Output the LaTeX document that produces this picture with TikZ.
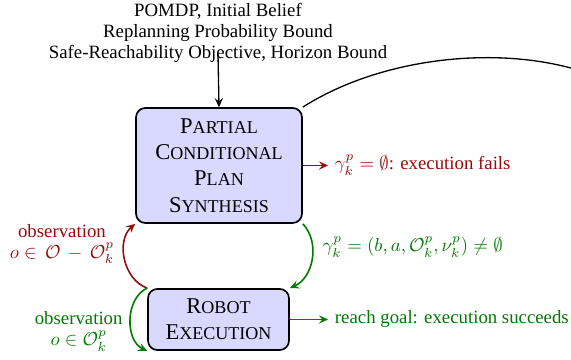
\documentclass[tikz,border=0pt]{standalone}
\usepackage[no-math]{fontspec}
\setmainfont{Liberation Serif}
\usetikzlibrary{arrows.meta}

\definecolor{boxfill}{RGB}{217,217,255}
\definecolor{failred}{RGB}{150,12,12}
\definecolor{okgreen}{RGB}{0,122,0}

% fake small caps
\newcommand{\capsword}[2]{#1{\fontsize{9.6}{14}\selectfont #2}}

\tikzset{every picture/.style={line width=0.75pt}}
\tikzset{
  procbox/.style={draw, line width=0.9pt, rounded corners=5pt, fill=boxfill, align=center,
    inner sep=0pt, font=\fontsize{12}{14}\selectfont},
  flow/.style={-{Stealth[length=4.8pt,width=4.4pt,inset=1.8pt]}, line width=0.85pt},
  note/.style={align=center, font=\fontsize{10}{11}\selectfont},
}

\begin{document}
\begin{tikzpicture}[x=0.532pt,y=0.532pt,yscale=-1,xscale=1]
\useasboundingbox (0,0) rectangle (571,360);

%Shape: Rounded Rect
\node [procbox, minimum width=88.3pt, minimum height=61.2pt] (synth) at (219,165.5)
  {\capsword{P}{ARTIAL}\\ \capsword{C}{ONDITIONAL}\\ \capsword{P}{LAN}\\ \capsword{S}{YNTHESIS}};
%Shape: Rounded Rect
\node [procbox, minimum width=75pt, minimum height=32.5pt] (robot) at (218.5,319.5)
  {\capsword{R}{OBOT}\\ \capsword{E}{XECUTION}};

% Text Node
\node [note, inner sep=0pt] (inputs) at (218,33)
  {POMDP, Initial Belief\\ Replanning Probability Bound\\ Safe-Reachability Objective, Horizon Bound};
% Text Node
\node [note, anchor=west, text=failred] (fails) at (328,165) {$\gamma^p_k=\emptyset$: execution fails};
% Text Node
\node [note, anchor=west, text=okgreen] (succeeds) at (328,319) {reach goal: execution succeeds};

%Straight Lines
\draw [flow, line width=0.7pt] ([yshift=-5pt]inputs.south) -- (synth.north);
\draw [flow, failred] (synth.east) -- (synth.east -| fails.west);
\draw [flow, okgreen] (robot.east) -- (robot.east -| succeeds.west);

%Curve Lines
\draw [flow, okgreen] (synth.south east) to [bend right=55]
  node [note, right=2pt, yshift=6.5pt] {$\gamma^p_k=(b,a,\mathcal{O}^p_k,\nu^p_k)\neq\emptyset$} (robot.north east);
\draw [flow, failred] (robot.north west) to [bend right=60]
  node [note, left=2pt, yshift=8pt] {observation\\ $o\in\,\mathcal{O}\,-\,\mathcal{O}^p_k$} (synth.south west);
\draw [flow, okgreen] (robot.north west) to [bend left=65]
  node [note, left=1pt, pos=0.62, yshift=-1.5pt] {observation\\ $o\in\mathcal{O}^p_k$} (robot.south west);

% leaves to the right
\coordinate (offpage) at (640,100);
\draw [line width=0.7pt] (synth.north east) .. controls (400,45) and (560,40) .. (offpage);

\end{tikzpicture}
\end{document}
